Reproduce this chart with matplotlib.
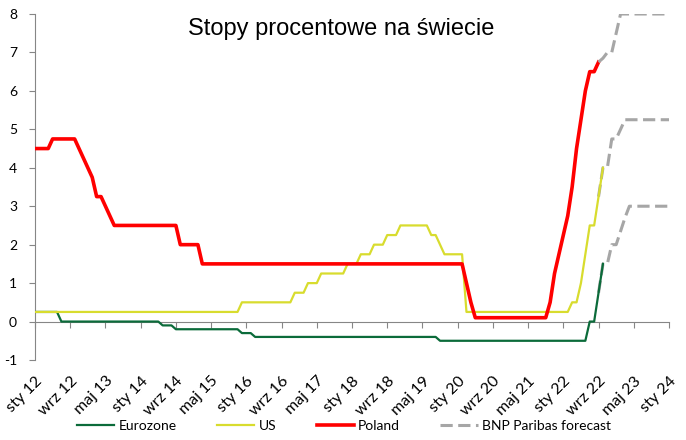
import numpy as np
import matplotlib
matplotlib.use("Agg")
import matplotlib.pyplot as plt

# ---- data (monthly, Jan 2012 onward) ----
poland = (
    [4.5, 4.5, 4.5, 4.5, 4.75, 4.75, 4.75, 4.75, 4.75, 4.75, 4.5, 4.25] +      # 2012
    [4.0, 3.75, 3.25, 3.25, 3.0, 2.75, 2.5, 2.5, 2.5, 2.5, 2.5, 2.5] +         # 2013
    [2.5, 2.5, 2.5, 2.5, 2.5, 2.5, 2.5, 2.5, 2.5, 2.0, 2.0, 2.0] +             # 2014
    [2.0, 2.0, 1.5, 1.5, 1.5, 1.5, 1.5, 1.5, 1.5, 1.5, 1.5, 1.5] +             # 2015
    [1.5, 1.5, 1.5, 1.5, 1.5, 1.5, 1.5, 1.5, 1.5, 1.5, 1.5, 1.5] +             # 2016
    [1.5, 1.5, 1.5, 1.5, 1.5, 1.5, 1.5, 1.5, 1.5, 1.5, 1.5, 1.5] +             # 2017
    [1.5, 1.5, 1.5, 1.5, 1.5, 1.5, 1.5, 1.5, 1.5, 1.5, 1.5, 1.5] +             # 2018
    [1.5, 1.5, 1.5, 1.5, 1.5, 1.5, 1.5, 1.5, 1.5, 1.5, 1.5, 1.5] +             # 2019
    [1.5, 1.5, 1.0, 0.5, 0.1, 0.1, 0.1, 0.1, 0.1, 0.1, 0.1, 0.1] +             # 2020
    [0.1, 0.1, 0.1, 0.1, 0.1, 0.1, 0.1, 0.1, 0.1, 0.5, 1.25, 1.75] +           # 2021
    [2.25, 2.75, 3.5, 4.5, 5.25, 6.0, 6.5, 6.5, 6.75]                          # 2022
)
us = (
    [0.25] * 12 + [0.25] * 12 + [0.25] * 12 +                                  # 2012-2014
    [0.25, 0.25, 0.25, 0.25, 0.25, 0.25, 0.25, 0.25, 0.25, 0.25, 0.25, 0.5] +  # 2015
    [0.5, 0.5, 0.5, 0.5, 0.5, 0.5, 0.5, 0.5, 0.5, 0.5, 0.5, 0.75] +            # 2016
    [0.75, 0.75, 1.0, 1.0, 1.0, 1.25, 1.25, 1.25, 1.25, 1.25, 1.25, 1.5] +     # 2017
    [1.5, 1.5, 1.75, 1.75, 1.75, 2.0, 2.0, 2.0, 2.25, 2.25, 2.25, 2.5] +       # 2018
    [2.5, 2.5, 2.5, 2.5, 2.5, 2.5, 2.25, 2.25, 2.0, 1.75, 1.75, 1.75] +        # 2019
    [1.75, 1.75, 0.25, 0.25, 0.25, 0.25, 0.25, 0.25, 0.25, 0.25, 0.25, 0.25] + # 2020
    [0.25] * 12 +                                                              # 2021
    [0.25, 0.25, 0.5, 0.5, 1.0, 1.75, 2.5, 2.5, 3.25, 4.0]                     # 2022
)
eurozone = (
    [0.25, 0.25, 0.25, 0.25, 0.25, 0.25, 0.0, 0.0, 0.0, 0.0, 0.0, 0.0] +       # 2012
    [0.0] * 12 +                                                               # 2013
    [0.0, 0.0, 0.0, 0.0, 0.0, -0.1, -0.1, -0.1, -0.2, -0.2, -0.2, -0.2] +      # 2014
    [-0.2, -0.2, -0.2, -0.2, -0.2, -0.2, -0.2, -0.2, -0.2, -0.2, -0.2, -0.3] + # 2015
    [-0.3, -0.3, -0.4, -0.4, -0.4, -0.4, -0.4, -0.4, -0.4, -0.4, -0.4, -0.4] + # 2016
    [-0.4] * 12 + [-0.4] * 12 +                                                # 2017-2018
    [-0.4, -0.4, -0.4, -0.4, -0.4, -0.4, -0.4, -0.4, -0.5, -0.5, -0.5, -0.5] + # 2019
    [-0.5] * 12 + [-0.5] * 12 +                                                # 2020-2021
    [-0.5, -0.5, -0.5, -0.5, -0.5, -0.5, 0.0, 0.0, 0.75, 1.5]                  # 2022
)
# BNP Paribas forecast, Sep 2022 .. Jan 2024
forecast_start = 128  # month index of Sep 2022
fc_poland = [6.75, 6.85, 7.0, 7.0, 7.5, 8.0] + [8.0] * 11
fc_us = [3.25, 4.0, 4.0, 4.75, 4.75, 5.0, 5.25] + [5.25] * 10
fc_eurozone = [0.75, 1.5, 1.5, 2.0, 2.0, 2.35, 2.7, 3.0] + [3.0] * 9

tick_labels = ["sty 12", "wrz 12", "maj 13", "sty 14", "wrz 14", "maj 15",
               "sty 16", "wrz 16", "maj 17", "sty 18", "wrz 18", "maj 19",
               "sty 20", "wrz 20", "maj 21", "sty 22", "wrz 22", "maj 23",
               "sty 24"]
yticks = [-1, 0, 1, 2, 3, 4, 5, 6, 7, 8]

# ---- plot ----
plt.rcParams['font.family'] = ['Lato', 'DejaVu Sans']
fig = plt.figure(figsize=(6.86, 4.40), dpi=100)
ax = fig.add_axes([35 / 686, 1 - 360 / 440, (669 - 35) / 686, (360 - 14) / 440])

c_ez = '#0b6b3a'
c_us = '#d8dc2e'
c_pl = '#ff0000'
c_fc = '#a6a6a6'

x_pl = np.arange(len(poland))
x_us = np.arange(len(us))
x_ez = np.arange(len(eurozone))
x_fc = np.arange(forecast_start, forecast_start + len(fc_poland))

ax.plot(x_ez, eurozone, color=c_ez, lw=1.6, label='Eurozone', zorder=3)
ax.plot(x_us, us, color=c_us, lw=1.6, label='US', zorder=3)
ax.plot(x_pl, poland, color=c_pl, lw=2.6, label='Poland', zorder=4)
dash = (4.0, 1.8)
ax.plot(x_fc, fc_poland, color=c_fc, lw=2.2, ls=(0, dash), label='BNP Paribas forecast', zorder=5)
ax.plot(x_fc, fc_us, color=c_fc, lw=2.2, ls=(0, dash), zorder=2)
ax.plot(x_fc, fc_eurozone, color=c_fc, lw=2.2, ls=(0, dash), zorder=2)

ax.set_xlim(0, 144)
ax.set_ylim(-1, 8)
ax.set_yticks(yticks)
ax.set_yticklabels([str(v) for v in yticks], fontsize=10)

xt = np.arange(0, 145, 8)
ax.set_xticks(xt)
ax.tick_params(axis='x', which='both', labelbottom=False, direction='out',
               length=4, color='#868686', width=0.8)
ax.tick_params(axis='y', direction='out', length=4, color='#868686', width=0.8, pad=9)

for s in ['top', 'right']:
    ax.spines[s].set_visible(False)
ax.spines['left'].set_color('#868686')
ax.spines['left'].set_linewidth(0.8)
ax.spines['bottom'].set_position(('data', 0))
ax.spines['bottom'].set_color('#868686')
ax.spines['bottom'].set_linewidth(0.8)

sec = ax.secondary_xaxis('bottom')
sec.set_xticks(xt)
sec.set_xticklabels(tick_labels, rotation=45, ha='right', va='top',
                    rotation_mode='anchor', fontsize=11.5)
sec.tick_params(length=0, pad=10)
sec.spines['bottom'].set_visible(False)

fig.text(341 / 686, 1 - 29 / 440, 'Stopy procentowe na świecie',
         family=['Liberation Sans', 'DejaVu Sans'], fontsize=17,
         ha='center', va='center')

leg = fig.legend(loc='center', bbox_to_anchor=(344 / 686, 1 - 426 / 440),
                 ncol=4, frameon=False, fontsize=10, handlelength=2.7,
                 handletextpad=0.3, columnspacing=2.9)

fig.savefig('out.png', dpi=100)
